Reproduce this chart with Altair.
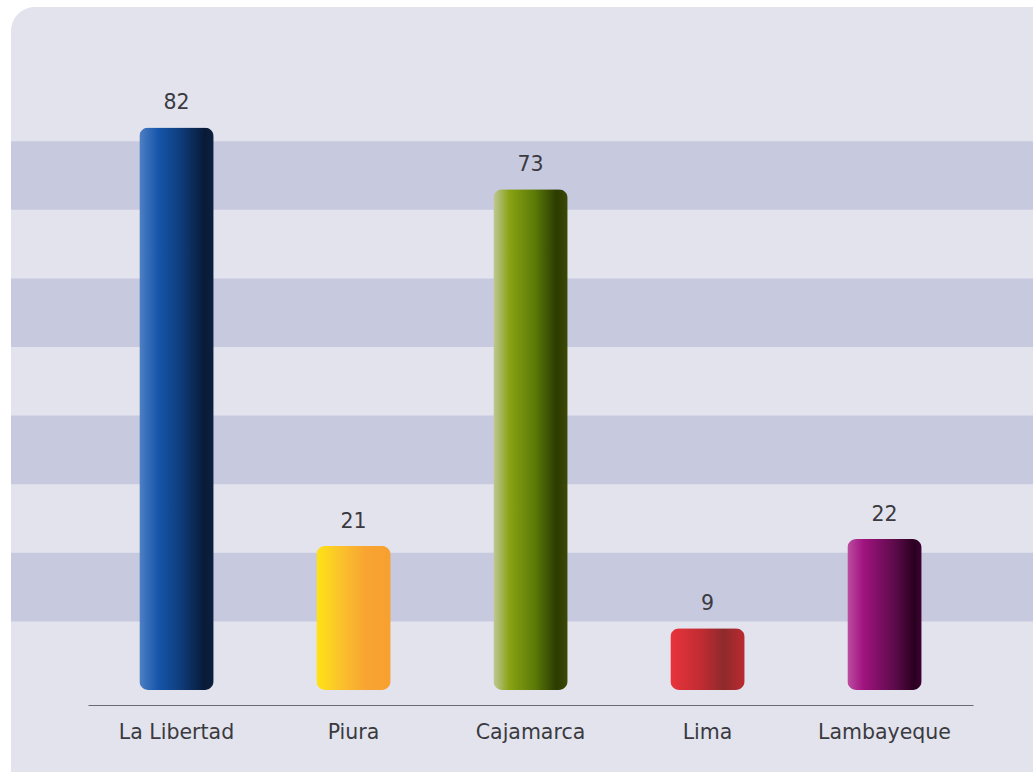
import altair as alt
import pandas as pd

regions = ["La Libertad", "Piura", "Cajamarca", "Lima", "Lambayeque"]
values = [82, 21, 73, 9, 22]
band_start = [10, 30, 50, 70]
band_end = [20, 40, 60, 80]

gradients = {
    "La Libertad": [("#4f80c4", 0), ("#1656aa", 0.25), ("#0f3d7c", 0.55), ("#081a36", 0.88), ("#0c2140", 1)],
    "Piura": [("#ffe315", 0), ("#fbc52a", 0.3), ("#f8a532", 0.65), ("#f7a030", 1)],
    "Cajamarca": [("#c0c898", 0), ("#88a212", 0.22), ("#5d7c08", 0.55), ("#2c3b00", 0.85), ("#3b4a06", 1)],
    "Lima": [("#e9343c", 0), ("#c22c33", 0.4), ("#8e2a2b", 0.72), ("#bb2a30", 1)],
    "Lambayeque": [("#bd4da2", 0), ("#a0137f", 0.22), ("#5a0a48", 0.65), ("#2a0020", 0.9), ("#3c0332", 1)],
}

df = pd.DataFrame({"region": regions, "value": values})
bands = pd.DataFrame({"y0": band_start, "y1": band_end})

FONT = "DejaVu Sans"
TXT = "#3a3a3f"

yscale = alt.Scale(domain=[0, 100], nice=False)
xscale = alt.Scale(domain=regions, paddingInner=0.58, paddingOuter=0.29)
xaxis = alt.Axis(title=None, orient="bottom", offset=15, ticks=False, domainColor="#6a6a72",
                 domainWidth=1.2, labelFont=FONT, labelFontSize=20.5, labelColor=TXT,
                 labelPadding=17, labelAngle=0, zindex=2)

card = alt.Chart(pd.DataFrame({"a": [0]})).mark_rect(
    fill="#e3e3ee", cornerRadius=24
).encode(x=alt.value(-77), x2=alt.value(1000), y=alt.value(3), y2=alt.value(800))

band_layer = alt.Chart(bands).mark_rect(fill="#c7c9df").encode(
    y=alt.Y("y0:Q", scale=yscale, axis=None),
    y2="y1:Q",
    x=alt.value(-77),
    x2=alt.value(1000),
)

layers = [card, band_layer]
for r in regions:
    stops = [alt.GradientStop(color=c, offset=o) for c, o in gradients[r]]
    grad = alt.Gradient(gradient="linear", stops=stops, x1=0, x2=1, y1=0, y2=0)
    bar = alt.Chart(df).transform_filter(alt.datum.region == r).mark_bar(
        color=grad, cornerRadius=9
    ).encode(
        x=alt.X("region:N", scale=xscale, axis=xaxis, sort=regions),
        y=alt.Y("value:Q", scale=yscale, axis=None),
    )
    layers.append(bar)

labels = alt.Chart(df).mark_text(
    font=FONT, fontSize=20.5, color=TXT, dy=-14, baseline="bottom"
).encode(
    x=alt.X("region:N", scale=xscale, axis=xaxis, sort=regions),
    y=alt.Y("value:Q", scale=yscale, axis=None),
    text="value:Q",
)
layers.append(labels)

chart = alt.layer(*layers).properties(
    width=885, height=686,
    background="white",
    padding={"left": 88, "top": 4, "right": 60, "bottom": 82},
    autosize=alt.AutoSizeParams(type="none"),
).configure_view(stroke=None)

chart.save("out.html", embed_options={"renderer": "svg", "actions": False})
